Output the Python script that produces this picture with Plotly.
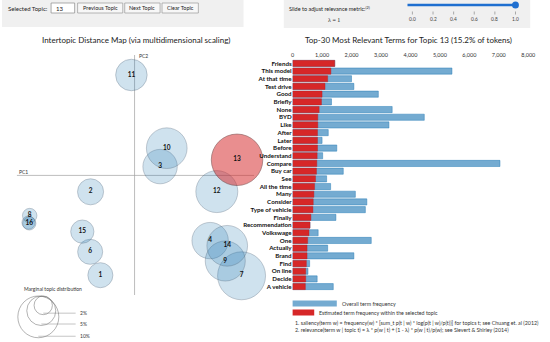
import plotly.graph_objects as go
import numpy as np

W, H = 550, 342

# ---------------- data ----------------
topic_ids = [1, 2, 3, 4, 5, 6, 7, 8, 9, 10, 11, 12, 13, 14, 15, 16]
pc1 = [-0.087, -0.112, 0.065, 0.1925, -0.270, -0.113, 0.2725, -0.267, 0.231, 0.082,
       -0.008, 0.2095, 0.261, 0.236, -0.133, -0.268]
pc2 = [-0.2495, -0.041, 0.022, -0.163, -0.118, -0.191, -0.251, -0.1005, -0.214, 0.068,
       0.251, -0.0405, 0.039, -0.176, -0.1405, -0.120]
marginal_pct = [3.6, 3.9, 6.8, 7.6, 1.0, 3.6, 13.2, 1.2, 9.2, 9.5, 5.7, 10.1, 15.2, 9.5, 3.1, 1.0]
topic_labels = ["1", "2", "3", "4", "", "6", "7", "8", "9", "10", "11", "12", "13", "14", "15", "16"]
selected_topic = 13
selected_share = 15.2

terms = ["Friends", "This model", "At that time", "Test drive", "Good", "Briefly", "None", "BYD",
         "Like", "After", "Later", "Before", "Understand", "Compare", "Buy car", "See",
         "All the time", "Many", "Consider", "Type of vehicle", "Finally", "Recommendation",
         "Volkswage", "One", "Actually", "Brand", "Find", "On line", "Decide", "A vehicle"]
overall_freq = [1430, 5410, 2000, 2080, 2910, 1320, 3380, 4470, 3270, 1210, 1000, 1500, 1020, 7040,
                1720, 1155, 1290, 2130, 2520, 2470, 1470, 590, 867, 2670, 1190, 2080, 578, 522, 833, 1380]
topic_freq = [1430, 1300, 1190, 1100, 1000, 980, 900, 855, 855, 845, 845, 845, 833, 822, 810, 778,
              745, 722, 700, 690, 622, 590, 555, 511, 490, 490, 467, 445, 445, 433]
freq_ticks = [0, 1000, 2000, 3000, 4000, 5000, 6000, 7000, 8000]
lambda_ticks = [0.0, 0.2, 0.4, 0.6, 0.8, 1.0]
lambda_value = 1.0
legend_pcts = [2, 5, 10]

# ---------------- helpers ----------------
def fx(x):
    return x / W

def fy(y):
    return 1 - y / H

K = 6.6  # px radius per sqrt(percent)
FONT = "Lato"
BLUE_C = "rgba(31,119,180,0.30)"
RED_C = "rgba(214,39,40,0.74)"

fig = go.Figure()

# ---------------- intertopic map ----------------
sizes = [2 * K * np.sqrt(p) for p in marginal_pct]
colors = [RED_C if t == selected_topic else BLUE_C for t in topic_ids]
line_cols = ["rgba(90,30,30,0.8)" if t == selected_topic else "rgba(70,90,110,0.55)" for t in topic_ids]
fig.add_trace(go.Scatter(
    x=pc1, y=pc2, mode="markers", cliponaxis=False,
    marker=dict(size=sizes, sizemode="diameter", color=colors,
                line=dict(color=line_cols, width=0.8)),
    xaxis="x", yaxis="y", hoverinfo="skip", showlegend=False))
fig.add_trace(go.Scatter(
    x=pc1, y=pc2, mode="text", text=topic_labels, cliponaxis=False,
    textfont=dict(family=FONT, size=6.5, color="#111", weight="bold"),
    xaxis="x", yaxis="y", hoverinfo="skip", showlegend=False))

# ---------------- bars ----------------
fig.add_trace(go.Bar(
    y=terms, x=overall_freq, orientation="h", xaxis="x2", yaxis="y2",
    marker=dict(color="rgba(31,119,180,0.62)", line=dict(color="rgba(31,119,180,0.9)", width=0.5)),
    showlegend=False, hoverinfo="skip"))
fig.add_trace(go.Bar(
    y=terms, x=topic_freq, orientation="h", xaxis="x2", yaxis="y2",
    marker=dict(color="#d62728", line=dict(color="#b81f20", width=0.4)),
    showlegend=False, hoverinfo="skip"))

shapes = []
ann = []

def text(x, y, s, size=6, anchor="left", color="#222", bold=False, family=FONT):
    ann.append(dict(x=fx(x), y=fy(y), xref="paper", yref="paper", text=s, showarrow=False,
                    xanchor=anchor, yanchor="middle",
                    font=dict(family=family, size=size, color=color,
                              weight="bold" if bold else "normal")))

def rect(x0, y0, x1, y1, fill, line="rgba(0,0,0,0)", lw=0.0):
    shapes.append(dict(type="rect", xref="paper", yref="paper", x0=fx(x0), x1=fx(x1),
                       y0=fy(y1), y1=fy(y0), fillcolor=fill, line=dict(color=line, width=lw),
                       layer="below"))

def pline(x0, y0, x1, y1, color="#999", width=0.7):
    shapes.append(dict(type="line", xref="paper", yref="paper", x0=fx(x0), x1=fx(x1),
                       y0=fy(y0), y1=fy(y1), line=dict(color=color, width=width)))

# top control panels
rect(0, 0, 246, 27, "#f0f0f0")
rect(287, 0, 538, 28, "#f0f0f0")
text(4, 8, "Selected Topic:", 6)
rect(50, 3, 74, 13, "#ffffff", "#8a8a8a", 0.7)
text(53, 8, str(selected_topic), 6)
for label, x0, x1 in [("Previous Topic", 77, 123), ("Next Topic", 125, 161), ("Clear Topic", 163, 200)]:
    rect(x0, 3, x1, 13, "#f7f7f7", "#9a9a9a", 0.7)
    text((x0 + x1) / 2, 8, label, 5.5, anchor="center")

text(290, 8, "Slide to adjust relevance metric:<sup>(2)</sup>", 5.5)
text(338, 20, "λ = %g" % lambda_value, 6, anchor="center", family="Liberation Serif")
lx0, lx1 = 418, 523
def lam_x(v):
    return lx0 + (lx1 - lx0) * v
pline(413, 5, lam_x(lambda_value), 5, color="#1f6fd0", width=2.6)
shapes.append(dict(type="circle", xref="paper", yref="paper",
                   x0=fx(lam_x(lambda_value) - 3.5), x1=fx(lam_x(lambda_value) + 3.5),
                   y0=fy(5 + 3.5), y1=fy(5 - 3.5), fillcolor="#1f6fd0", line=dict(width=0)))
for v in lambda_ticks:
    pline(lam_x(v), 11.5, lam_x(v), 14.5, color="#777", width=0.6)
    text(lam_x(v), 19, "%.1f" % v, 4.8, anchor="center", color="#444")

# titles
text(136, 40, "Intertopic Distance Map (via multidimensional scaling)", 8, anchor="center")
text(414, 40, "Top-30 Most Relevant Terms for Topic %d (%.1f%% of tokens)" % (selected_topic, selected_share),
     8, anchor="center")

# PC axes
shapes.append(dict(type="line", xref="x", yref="y", x0=-0.30, x1=0.305, y0=0, y1=0,
                   line=dict(color="#a0a0a0", width=0.7), layer="below"))
shapes.append(dict(type="line", xref="x", yref="y", x0=0, x1=0, y0=-0.299, y1=0.301,
                   line=dict(color="#a0a0a0", width=0.7), layer="below"))
text(15, 171.5, "PC1", 5, color="#333")
text(138, 56, "PC2", 5, color="#333")

# marginal topic distribution legend
text(20, 289, "Marginal topic distribution", 5, color="#333")
top_y = 296
lcx = [42, 40, 37]
for p, cx in zip(legend_pcts, lcx):
    r = K * np.sqrt(p)
    shapes.append(dict(type="circle", xref="paper", yref="paper",
                       x0=fx(cx - r), x1=fx(cx + r), y0=fy(top_y + 2 * r), y1=fy(top_y),
                       line=dict(color="#666", width=0.5), fillcolor="rgba(0,0,0,0)"))
    by = top_y + 2 * r - 1.5
    pline(cx, by, 75, by, color="#888", width=0.5)
    text(77, by - 0.5, "%d%%" % p, 5, color="#333")

# bar legend and footnotes
rect(296, 300.5, 341, 306.5, "rgba(31,119,180,0.62)")
text(344, 303.5, "Overall term frequency", 5.3, color="#333")
rect(296, 309.5, 318, 315.5, "#d62728")
text(321, 312.5, "Estimated term frequency within the selected topic", 5.3, color="#333")
text(296, 322.5, "1. saliency(term w) = frequency(w) * [sum_t p(t | w) * log(p(t | w)/p(t))] for topics t; see Chuang et. al (2012)",
     5.3, color="#333")
text(296, 329.5, "2. relevance(term w | topic t) = λ * p(w | t) + (1 - λ) * p(w | t)/p(w); see Sievert &amp; Shirley (2014)",
     5.3, color="#333")

fig.update_layout(
    width=W, height=H, margin=dict(l=0, r=0, t=0, b=0),
    paper_bgcolor="white", plot_bgcolor="rgba(0,0,0,0)",
    barmode="overlay", bargap=0.2,
    shapes=shapes, annotations=ann,
    xaxis=dict(domain=[fx(15), fx(257)], range=[-0.30, 0.305], visible=False, fixedrange=True),
    yaxis=dict(domain=[fy(295), fy(55)], range=[-0.299, 0.301], visible=False, fixedrange=True),
    xaxis2=dict(domain=[fx(296), fx(536)], range=[0, 8000], side="top", anchor="y2",
                tickvals=freq_ticks, ticktext=["{:,}".format(v) for v in freq_ticks],
                tickfont=dict(family=FONT, size=5.5, color="#333"),
                showgrid=False, zeroline=False, showline=False, ticks=""),
    yaxis2=dict(domain=[fy(290.5), fy(59.5)], anchor="x2", categoryorder="array",
                categoryarray=terms, autorange="reversed",
                tickmode="array", tickvals=terms, ticktext=terms,
                tickfont=dict(family=FONT, size=6.2, color="#111", weight="bold"),
                showgrid=False, zeroline=False, showline=False, ticks=""),
    font=dict(family=FONT),
)

fig.write_html("out.html", config={"displayModeBar": False, "staticPlot": True},
               post_script="document.body.style.margin='0';document.body.style.overflow='hidden';")
